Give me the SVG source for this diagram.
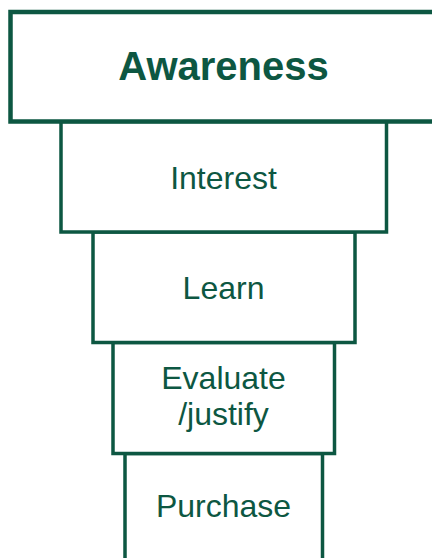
<svg xmlns="http://www.w3.org/2000/svg" width="432" height="558" viewBox="0 0 432 558">
  <style>
    .stage { fill: #ffffff; stroke: #0d5742; stroke-width: 3.5; }
    .label { fill: #0d5742; font-family: "Liberation Sans", Arial, sans-serif; font-size: 32px; text-anchor: middle; }
    .title { font-weight: bold; font-size: 40px; }
  </style>
  <rect width="432" height="558" fill="#ffffff"/>

  <!-- funnel stages, widest at the top -->
  <g id="purchase">
    <rect class="stage" x="125" y="453.5" width="197.5" height="120"/>
    <text class="label" x="223.5" y="517">Purchase</text>
  </g>
  <g id="evaluate">
    <rect class="stage" x="113" y="342.5" width="221.5" height="111"/>
    <text class="label" x="223.5" y="389">Evaluate</text>
    <text class="label" x="223.5" y="425">/justify</text>
  </g>
  <g id="learn">
    <rect class="stage" x="93" y="232" width="262" height="110.5"/>
    <text class="label" x="223.5" y="299">Learn</text>
  </g>
  <g id="interest">
    <rect class="stage" x="61" y="121.5" width="325.5" height="110.5"/>
    <text class="label" x="223.5" y="189">Interest</text>
  </g>
  <g id="awareness">
    <rect class="stage" x="10.5" y="12" width="430" height="109.5" style="stroke-width:4.5"/>
    <text class="label title" x="223.5" y="80">Awareness</text>
  </g>
</svg>
